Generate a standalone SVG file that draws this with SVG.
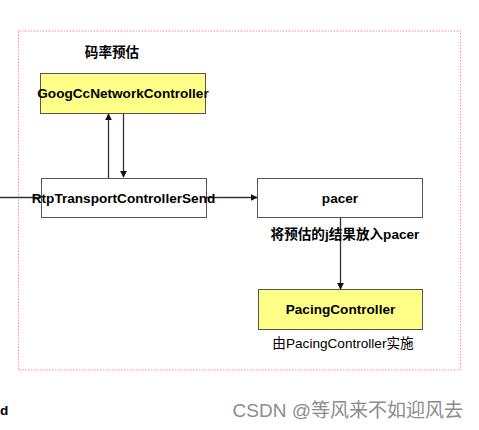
<svg xmlns="http://www.w3.org/2000/svg" width="479" height="430" viewBox="0 0 479 430">
<style>
.box{stroke:#555;stroke-width:1}
.y{fill:#ffff88}
.w{fill:#fff}
.t{font-family:"Liberation Sans","Noto Sans CJK SC",sans-serif;font-size:13.6px;fill:#000;text-anchor:middle}
.b{font-weight:bold}
.ln{stroke:#333;stroke-width:1.3;fill:none}
</style>
<defs>
<marker id="ah" viewBox="0 0 10 10" refX="9" refY="5" markerWidth="7" markerHeight="7" markerUnits="userSpaceOnUse" orient="auto">
<path d="M0,0 L10,5 L0,10 z" fill="#111"/>
</marker>
</defs>
<rect width="479" height="430" fill="#fff"/>
<rect id="frame" x="18.5" y="31" width="442" height="339" fill="none" stroke="#ff8c8c" stroke-width="1" stroke-dasharray="1.5,1.5"/>
<text class="t b" x="112" y="57">码率预估</text>
<g id="connectors">
<line class="ln" x1="0" y1="197.5" x2="41" y2="197.5"/>
<line class="ln" x1="108.5" y1="178" x2="108.5" y2="114" marker-end="url(#ah)"/>
<line class="ln" x1="123.5" y1="113" x2="123.5" y2="177" marker-end="url(#ah)"/>
<line class="ln" x1="206" y1="197.5" x2="257" y2="197.5" marker-end="url(#ah)"/>
<line class="ln" x1="340.5" y1="217" x2="340.5" y2="289" marker-end="url(#ah)"/>
</g>
<g id="googcc">
<rect class="box y" x="40.5" y="73.5" width="165" height="40"/>
<text class="t b" x="123" y="98">GoogCcNetworkController</text>
</g>
<g id="rtp">
<rect class="box w" x="41.5" y="178.5" width="165" height="39"/>
<text class="t b" x="123.5" y="203">RtpTransportControllerSend</text>
</g>
<g id="pacer">
<rect class="box w" x="257.5" y="178.5" width="165" height="39"/>
<text class="t b" x="340" y="203">pacer</text>
<text class="t b" x="345" y="239">将预估的j结果放入pacer</text>
</g>
<g id="pacing">
<rect class="box y" x="258.5" y="289.5" width="164" height="40"/>
<text class="t b" x="340.5" y="314">PacingController</text>
<text class="t" x="343" y="348">由PacingController实施</text>
</g>
<text class="t b" x="0" y="415" style="text-anchor:start">d</text>
<text x="463" y="417" style="font-family:'Liberation Sans','Noto Sans CJK SC',sans-serif;font-size:19px;fill:#8c8c8c;text-anchor:end">CSDN @等风来不如迎风去</text>
</svg>
